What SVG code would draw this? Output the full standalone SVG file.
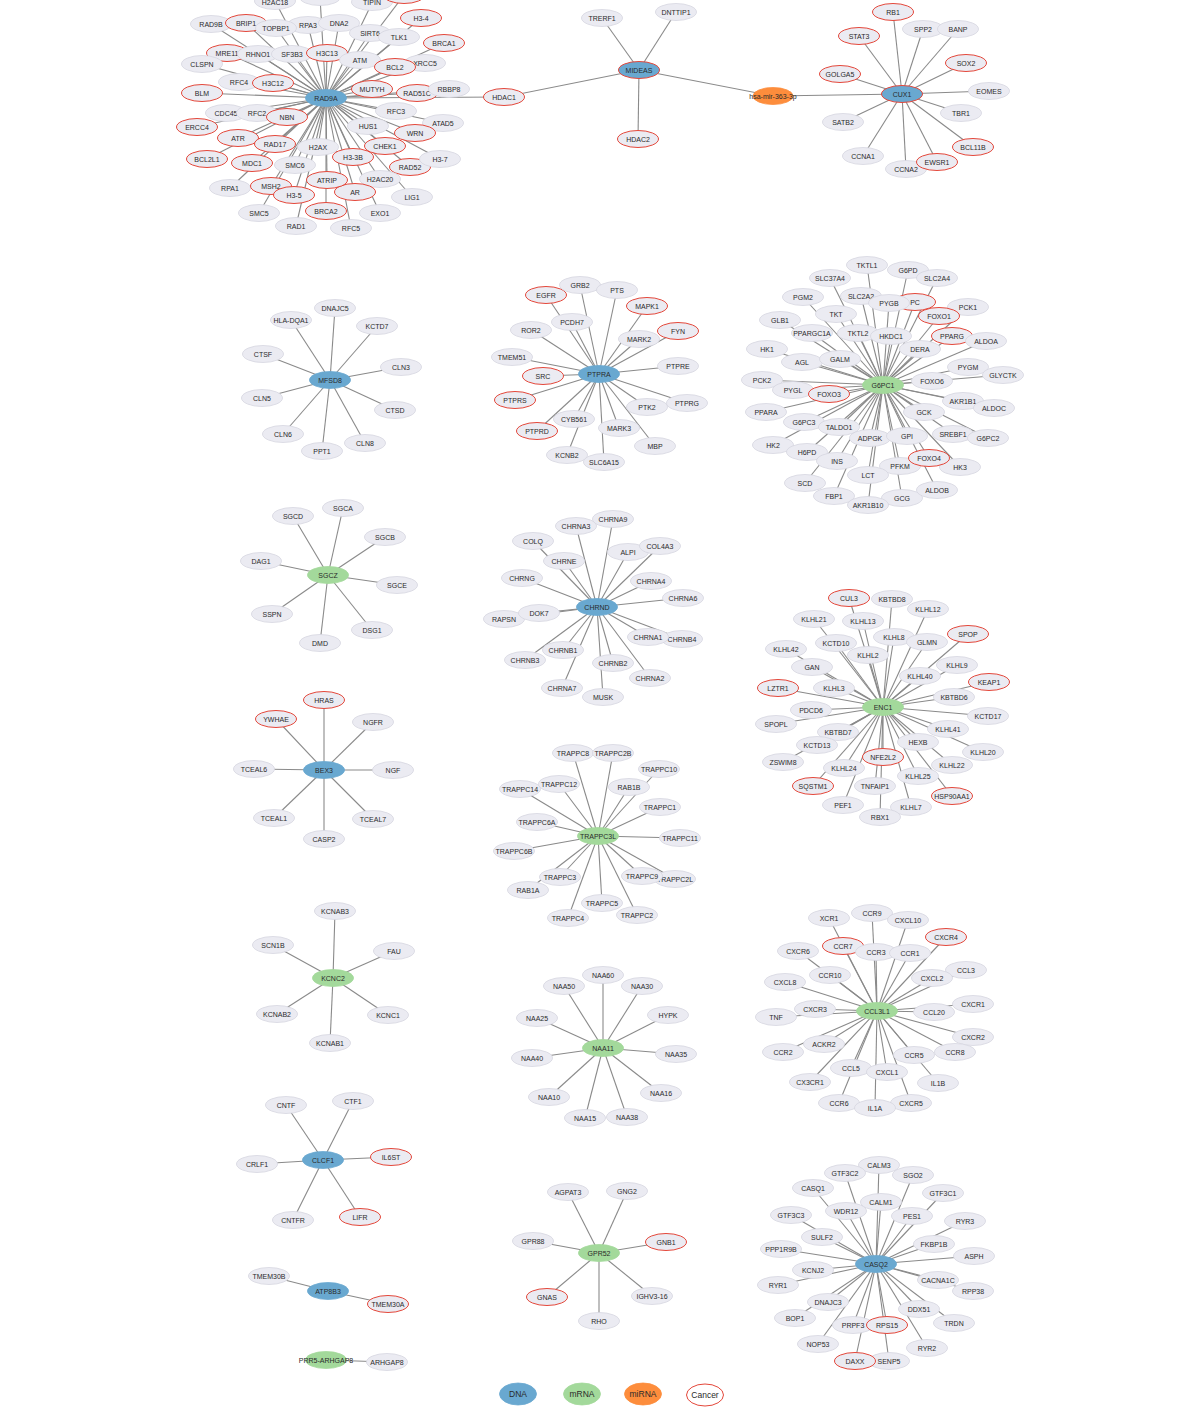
<svg xmlns="http://www.w3.org/2000/svg" width="1196" height="1421" viewBox="0 0 1196 1421">
<style>
.e line{stroke:#8a8a8a;stroke-width:1.1}
.n ellipse{fill:#ebebf2;stroke:#d6d6e0;stroke-width:0.8}
.n.d ellipse{fill:#69a8d0;stroke:#69a8d0}
.n.m ellipse{fill:#a3d99b;stroke:#a3d99b}
.n.r ellipse{fill:#fd8d3c;stroke:#fd8d3c}
.n.c ellipse{stroke:#e4473a;stroke-width:1}
.n.w ellipse{fill:#ffffff}
text{font-family:"Liberation Sans",Arial,sans-serif;font-size:7px;fill:#2a2a2a;text-anchor:middle}
.lg text{font-size:8.5px}
</style>
<rect width="1196" height="1421" fill="#fff"/>
<g id="connectors" class="e">
<line x1="326" y1="98" x2="275" y2="1"/><line x1="326" y1="98" x2="320" y2="-3"/><line x1="326" y1="98" x2="372" y2="3"/><line x1="326" y1="98" x2="404" y2="-5"/>
<line x1="326" y1="98" x2="211" y2="24"/><line x1="326" y1="98" x2="246" y2="23"/><line x1="326" y1="98" x2="276" y2="28"/><line x1="326" y1="98" x2="308" y2="25"/>
<line x1="326" y1="98" x2="339" y2="23"/><line x1="326" y1="98" x2="421" y2="18"/><line x1="326" y1="98" x2="370" y2="33"/><line x1="326" y1="98" x2="399" y2="37"/>
<line x1="326" y1="98" x2="444" y2="43"/><line x1="326" y1="98" x2="227" y2="53"/><line x1="326" y1="98" x2="258" y2="54"/><line x1="326" y1="98" x2="292" y2="54"/>
<line x1="326" y1="98" x2="327" y2="53"/><line x1="326" y1="98" x2="360" y2="60"/><line x1="326" y1="98" x2="425" y2="63"/><line x1="326" y1="98" x2="395" y2="67"/>
<line x1="326" y1="98" x2="202" y2="64"/><line x1="326" y1="98" x2="239" y2="82"/><line x1="326" y1="98" x2="273" y2="83"/><line x1="326" y1="98" x2="202" y2="93"/>
<line x1="326" y1="98" x2="372" y2="89"/><line x1="326" y1="98" x2="417" y2="93"/><line x1="326" y1="98" x2="449" y2="89"/><line x1="326" y1="98" x2="226" y2="113"/>
<line x1="326" y1="98" x2="257" y2="113"/><line x1="326" y1="98" x2="287" y2="117"/><line x1="326" y1="98" x2="396" y2="111"/><line x1="326" y1="98" x2="197" y2="127"/>
<line x1="326" y1="98" x2="443" y2="123"/><line x1="326" y1="98" x2="368" y2="126"/><line x1="326" y1="98" x2="415" y2="133"/><line x1="326" y1="98" x2="238" y2="138"/>
<line x1="326" y1="98" x2="275" y2="144"/><line x1="326" y1="98" x2="318" y2="147"/><line x1="326" y1="98" x2="385" y2="146"/><line x1="326" y1="98" x2="353" y2="157"/>
<line x1="326" y1="98" x2="410" y2="167"/><line x1="326" y1="98" x2="440" y2="159"/><line x1="326" y1="98" x2="207" y2="159"/><line x1="326" y1="98" x2="252" y2="163"/>
<line x1="326" y1="98" x2="295" y2="165"/><line x1="326" y1="98" x2="380" y2="179"/><line x1="326" y1="98" x2="327" y2="180"/><line x1="326" y1="98" x2="355" y2="192"/>
<line x1="326" y1="98" x2="230" y2="188"/><line x1="326" y1="98" x2="271" y2="186"/><line x1="326" y1="98" x2="294" y2="195"/><line x1="326" y1="98" x2="412" y2="197"/>
<line x1="326" y1="98" x2="259" y2="213"/><line x1="326" y1="98" x2="326" y2="211"/><line x1="326" y1="98" x2="380" y2="213"/><line x1="326" y1="98" x2="296" y2="226"/>
<line x1="326" y1="98" x2="351" y2="228"/><line x1="326" y1="98" x2="504" y2="97"/>
<line x1="504" y1="97" x2="639" y2="70"/><line x1="639" y1="70" x2="602" y2="18"/><line x1="639" y1="70" x2="676" y2="12"/><line x1="639" y1="70" x2="638" y2="139"/><line x1="639" y1="70" x2="773" y2="96"/><line x1="773" y1="96" x2="902" y2="94"/>
<line x1="902" y1="94" x2="893" y2="12"/><line x1="902" y1="94" x2="859" y2="36"/><line x1="902" y1="94" x2="923" y2="29"/><line x1="902" y1="94" x2="958" y2="29"/>
<line x1="902" y1="94" x2="966" y2="63"/><line x1="902" y1="94" x2="840" y2="74"/><line x1="902" y1="94" x2="989" y2="91"/><line x1="902" y1="94" x2="961" y2="113"/>
<line x1="902" y1="94" x2="843" y2="122"/><line x1="902" y1="94" x2="973" y2="147"/><line x1="902" y1="94" x2="863" y2="156"/><line x1="902" y1="94" x2="906" y2="169"/><line x1="902" y1="94" x2="937" y2="162"/>
<line x1="330" y1="380" x2="291" y2="320"/><line x1="330" y1="380" x2="335" y2="308"/><line x1="330" y1="380" x2="377" y2="326"/><line x1="330" y1="380" x2="263" y2="354"/>
<line x1="330" y1="380" x2="401" y2="367"/><line x1="330" y1="380" x2="262" y2="398"/><line x1="330" y1="380" x2="395" y2="410"/><line x1="330" y1="380" x2="283" y2="434"/>
<line x1="330" y1="380" x2="322" y2="451"/><line x1="330" y1="380" x2="365" y2="443"/>
<line x1="599" y1="374" x2="546" y2="295"/><line x1="599" y1="374" x2="580" y2="285"/><line x1="599" y1="374" x2="617" y2="290"/><line x1="599" y1="374" x2="647" y2="306"/>
<line x1="599" y1="374" x2="572" y2="322"/><line x1="599" y1="374" x2="531" y2="330"/><line x1="599" y1="374" x2="639" y2="339"/><line x1="599" y1="374" x2="678" y2="331"/>
<line x1="599" y1="374" x2="512" y2="357"/><line x1="599" y1="374" x2="678" y2="366"/><line x1="599" y1="374" x2="543" y2="376"/><line x1="599" y1="374" x2="515" y2="400"/>
<line x1="599" y1="374" x2="647" y2="407"/><line x1="599" y1="374" x2="687" y2="403"/><line x1="599" y1="374" x2="574" y2="419"/><line x1="599" y1="374" x2="619" y2="428"/>
<line x1="599" y1="374" x2="537" y2="431"/><line x1="599" y1="374" x2="655" y2="446"/><line x1="599" y1="374" x2="567" y2="455"/><line x1="599" y1="374" x2="604" y2="462"/>
<line x1="883" y1="385" x2="867" y2="265"/><line x1="883" y1="385" x2="908" y2="270"/><line x1="883" y1="385" x2="830" y2="278"/><line x1="883" y1="385" x2="937" y2="278"/>
<line x1="883" y1="385" x2="803" y2="297"/><line x1="883" y1="385" x2="861" y2="296"/><line x1="883" y1="385" x2="889" y2="303"/><line x1="883" y1="385" x2="915" y2="302"/>
<line x1="883" y1="385" x2="968" y2="307"/><line x1="883" y1="385" x2="939" y2="316"/><line x1="883" y1="385" x2="836" y2="314"/><line x1="883" y1="385" x2="780" y2="320"/>
<line x1="883" y1="385" x2="812" y2="333"/><line x1="883" y1="385" x2="858" y2="333"/><line x1="883" y1="385" x2="891" y2="336"/><line x1="883" y1="385" x2="952" y2="336"/>
<line x1="883" y1="385" x2="986" y2="341"/><line x1="883" y1="385" x2="920" y2="349"/><line x1="883" y1="385" x2="767" y2="349"/><line x1="883" y1="385" x2="802" y2="362"/>
<line x1="883" y1="385" x2="840" y2="359"/><line x1="883" y1="385" x2="968" y2="367"/><line x1="883" y1="385" x2="1003" y2="375"/><line x1="883" y1="385" x2="932" y2="381"/>
<line x1="883" y1="385" x2="762" y2="380"/><line x1="883" y1="385" x2="793" y2="390"/><line x1="883" y1="385" x2="829" y2="394"/><line x1="883" y1="385" x2="963" y2="401"/>
<line x1="883" y1="385" x2="994" y2="408"/><line x1="883" y1="385" x2="766" y2="412"/><line x1="883" y1="385" x2="924" y2="412"/><line x1="883" y1="385" x2="804" y2="422"/>
<line x1="883" y1="385" x2="839" y2="427"/><line x1="883" y1="385" x2="953" y2="434"/><line x1="883" y1="385" x2="988" y2="438"/><line x1="883" y1="385" x2="870" y2="438"/>
<line x1="883" y1="385" x2="907" y2="436"/><line x1="883" y1="385" x2="773" y2="445"/><line x1="883" y1="385" x2="807" y2="452"/><line x1="883" y1="385" x2="929" y2="458"/>
<line x1="883" y1="385" x2="960" y2="467"/><line x1="883" y1="385" x2="837" y2="461"/><line x1="883" y1="385" x2="900" y2="466"/><line x1="883" y1="385" x2="868" y2="475"/>
<line x1="883" y1="385" x2="805" y2="483"/><line x1="883" y1="385" x2="937" y2="490"/><line x1="883" y1="385" x2="834" y2="496"/><line x1="883" y1="385" x2="902" y2="498"/>
<line x1="883" y1="385" x2="868" y2="505"/>
<line x1="328" y1="575" x2="293" y2="516"/><line x1="328" y1="575" x2="343" y2="508"/><line x1="328" y1="575" x2="385" y2="537"/><line x1="328" y1="575" x2="261" y2="561"/>
<line x1="328" y1="575" x2="397" y2="585"/><line x1="328" y1="575" x2="272" y2="614"/><line x1="328" y1="575" x2="372" y2="630"/><line x1="328" y1="575" x2="320" y2="643"/>
<line x1="597" y1="607" x2="576" y2="526"/><line x1="597" y1="607" x2="613" y2="519"/><line x1="597" y1="607" x2="533" y2="541"/><line x1="597" y1="607" x2="628" y2="552"/>
<line x1="597" y1="607" x2="660" y2="546"/><line x1="597" y1="607" x2="564" y2="561"/><line x1="597" y1="607" x2="522" y2="578"/><line x1="597" y1="607" x2="651" y2="581"/>
<line x1="597" y1="607" x2="683" y2="598"/><line x1="597" y1="607" x2="504" y2="619"/><line x1="597" y1="607" x2="539" y2="613"/><line x1="597" y1="607" x2="648" y2="637"/>
<line x1="597" y1="607" x2="682" y2="639"/><line x1="597" y1="607" x2="563" y2="650"/><line x1="597" y1="607" x2="525" y2="660"/><line x1="597" y1="607" x2="613" y2="663"/>
<line x1="597" y1="607" x2="650" y2="678"/><line x1="597" y1="607" x2="562" y2="688"/><line x1="597" y1="607" x2="603" y2="697"/>
<line x1="883" y1="707" x2="849" y2="598"/><line x1="883" y1="707" x2="892" y2="599"/><line x1="883" y1="707" x2="928" y2="609"/><line x1="883" y1="707" x2="814" y2="619"/>
<line x1="883" y1="707" x2="863" y2="621"/><line x1="883" y1="707" x2="968" y2="634"/><line x1="883" y1="707" x2="894" y2="637"/><line x1="883" y1="707" x2="927" y2="642"/>
<line x1="883" y1="707" x2="836" y2="643"/><line x1="883" y1="707" x2="786" y2="649"/><line x1="883" y1="707" x2="868" y2="655"/><line x1="883" y1="707" x2="812" y2="667"/>
<line x1="883" y1="707" x2="957" y2="665"/><line x1="883" y1="707" x2="920" y2="676"/><line x1="883" y1="707" x2="778" y2="688"/><line x1="883" y1="707" x2="989" y2="682"/>
<line x1="883" y1="707" x2="834" y2="688"/><line x1="883" y1="707" x2="954" y2="697"/><line x1="883" y1="707" x2="811" y2="710"/><line x1="883" y1="707" x2="988" y2="716"/>
<line x1="883" y1="707" x2="776" y2="724"/><line x1="883" y1="707" x2="948" y2="729"/><line x1="883" y1="707" x2="838" y2="732"/><line x1="883" y1="707" x2="918" y2="742"/>
<line x1="883" y1="707" x2="817" y2="745"/><line x1="883" y1="707" x2="983" y2="752"/><line x1="883" y1="707" x2="783" y2="762"/><line x1="883" y1="707" x2="883" y2="757"/>
<line x1="883" y1="707" x2="952" y2="765"/><line x1="883" y1="707" x2="844" y2="768"/><line x1="883" y1="707" x2="918" y2="776"/><line x1="883" y1="707" x2="813" y2="786"/>
<line x1="883" y1="707" x2="875" y2="786"/><line x1="883" y1="707" x2="952" y2="796"/><line x1="883" y1="707" x2="843" y2="805"/><line x1="883" y1="707" x2="911" y2="807"/>
<line x1="883" y1="707" x2="880" y2="817"/>
<line x1="324" y1="770" x2="324" y2="700"/><line x1="324" y1="770" x2="276" y2="719"/><line x1="324" y1="770" x2="373" y2="722"/><line x1="324" y1="770" x2="254" y2="769"/>
<line x1="324" y1="770" x2="393" y2="770"/><line x1="324" y1="770" x2="274" y2="818"/><line x1="324" y1="770" x2="373" y2="819"/><line x1="324" y1="770" x2="324" y2="839"/>
<line x1="598" y1="836" x2="573" y2="753"/><line x1="598" y1="836" x2="613" y2="753"/><line x1="598" y1="836" x2="659" y2="769"/><line x1="598" y1="836" x2="520" y2="789"/>
<line x1="598" y1="836" x2="559" y2="784"/><line x1="598" y1="836" x2="629" y2="787"/><line x1="598" y1="836" x2="660" y2="807"/><line x1="598" y1="836" x2="537" y2="822"/>
<line x1="598" y1="836" x2="680" y2="838"/><line x1="598" y1="836" x2="514" y2="851"/><line x1="598" y1="836" x2="560" y2="877"/><line x1="598" y1="836" x2="642" y2="876"/>
<line x1="598" y1="836" x2="675" y2="879"/><line x1="598" y1="836" x2="528" y2="890"/><line x1="598" y1="836" x2="602" y2="903"/><line x1="598" y1="836" x2="568" y2="918"/>
<line x1="598" y1="836" x2="637" y2="915"/>
<line x1="333" y1="978" x2="335" y2="911"/><line x1="333" y1="978" x2="273" y2="945"/><line x1="333" y1="978" x2="394" y2="951"/><line x1="333" y1="978" x2="277" y2="1014"/>
<line x1="333" y1="978" x2="388" y2="1015"/><line x1="333" y1="978" x2="330" y2="1043"/>
<line x1="603" y1="1048" x2="603" y2="975"/><line x1="603" y1="1048" x2="564" y2="986"/><line x1="603" y1="1048" x2="642" y2="986"/><line x1="603" y1="1048" x2="537" y2="1018"/>
<line x1="603" y1="1048" x2="668" y2="1015"/><line x1="603" y1="1048" x2="532" y2="1058"/><line x1="603" y1="1048" x2="676" y2="1054"/><line x1="603" y1="1048" x2="549" y2="1097"/>
<line x1="603" y1="1048" x2="661" y2="1093"/><line x1="603" y1="1048" x2="585" y2="1118"/><line x1="603" y1="1048" x2="627" y2="1117"/>
<line x1="877" y1="1011" x2="829" y2="918"/><line x1="877" y1="1011" x2="872" y2="913"/><line x1="877" y1="1011" x2="908" y2="920"/><line x1="877" y1="1011" x2="843" y2="946"/>
<line x1="877" y1="1011" x2="946" y2="937"/><line x1="877" y1="1011" x2="876" y2="952"/><line x1="877" y1="1011" x2="910" y2="953"/><line x1="877" y1="1011" x2="798" y2="951"/>
<line x1="877" y1="1011" x2="830" y2="975"/><line x1="877" y1="1011" x2="932" y2="978"/><line x1="877" y1="1011" x2="966" y2="970"/><line x1="877" y1="1011" x2="785" y2="982"/>
<line x1="877" y1="1011" x2="973" y2="1004"/><line x1="877" y1="1011" x2="815" y2="1009"/><line x1="877" y1="1011" x2="934" y2="1012"/><line x1="877" y1="1011" x2="776" y2="1017"/>
<line x1="877" y1="1011" x2="973" y2="1037"/><line x1="877" y1="1011" x2="824" y2="1044"/><line x1="877" y1="1011" x2="783" y2="1052"/><line x1="877" y1="1011" x2="955" y2="1052"/>
<line x1="877" y1="1011" x2="914" y2="1055"/><line x1="877" y1="1011" x2="851" y2="1068"/><line x1="877" y1="1011" x2="887" y2="1072"/><line x1="877" y1="1011" x2="810" y2="1082"/>
<line x1="877" y1="1011" x2="938" y2="1083"/><line x1="877" y1="1011" x2="839" y2="1103"/><line x1="877" y1="1011" x2="875" y2="1108"/><line x1="877" y1="1011" x2="911" y2="1103"/>
<line x1="323" y1="1160" x2="286" y2="1105"/><line x1="323" y1="1160" x2="353" y2="1101"/><line x1="323" y1="1160" x2="257" y2="1164"/><line x1="323" y1="1160" x2="391" y2="1157"/>
<line x1="323" y1="1160" x2="293" y2="1220"/><line x1="323" y1="1160" x2="360" y2="1217"/>
<line x1="328" y1="1291" x2="269" y2="1276"/><line x1="328" y1="1291" x2="388" y2="1304"/><line x1="326" y1="1360" x2="387" y2="1362"/>
<line x1="599" y1="1253" x2="568" y2="1192"/><line x1="599" y1="1253" x2="627" y2="1191"/><line x1="599" y1="1253" x2="533" y2="1241"/><line x1="599" y1="1253" x2="666" y2="1242"/>
<line x1="599" y1="1253" x2="547" y2="1297"/><line x1="599" y1="1253" x2="652" y2="1296"/><line x1="599" y1="1253" x2="599" y2="1321"/>
<line x1="876" y1="1264" x2="879" y2="1165"/><line x1="876" y1="1264" x2="845" y2="1173"/><line x1="876" y1="1264" x2="913" y2="1175"/><line x1="876" y1="1264" x2="813" y2="1188"/>
<line x1="876" y1="1264" x2="943" y2="1193"/><line x1="876" y1="1264" x2="881" y2="1202"/><line x1="876" y1="1264" x2="846" y2="1211"/><line x1="876" y1="1264" x2="912" y2="1216"/>
<line x1="876" y1="1264" x2="791" y2="1215"/><line x1="876" y1="1264" x2="965" y2="1221"/><line x1="876" y1="1264" x2="822" y2="1237"/><line x1="876" y1="1264" x2="934" y2="1244"/>
<line x1="876" y1="1264" x2="781" y2="1249"/><line x1="876" y1="1264" x2="974" y2="1256"/><line x1="876" y1="1264" x2="813" y2="1270"/><line x1="876" y1="1264" x2="938" y2="1280"/>
<line x1="876" y1="1264" x2="778" y2="1285"/><line x1="876" y1="1264" x2="973" y2="1291"/><line x1="876" y1="1264" x2="828" y2="1302"/><line x1="876" y1="1264" x2="919" y2="1309"/>
<line x1="876" y1="1264" x2="795" y2="1318"/><line x1="876" y1="1264" x2="954" y2="1323"/><line x1="876" y1="1264" x2="853" y2="1325"/><line x1="876" y1="1264" x2="887" y2="1325"/>
<line x1="876" y1="1264" x2="818" y2="1344"/><line x1="876" y1="1264" x2="927" y2="1348"/><line x1="876" y1="1264" x2="855" y2="1361"/><line x1="876" y1="1264" x2="889" y2="1361"/>
</g>
<g id="nodes">
<g id="n-H2AC18" class="n"><ellipse cx="275" cy="1" rx="20.5" ry="8.5"/><text x="275" y="4.5">H2AC18</text></g>
<g id="n-top2" class="n"><ellipse cx="320" cy="-3" rx="20.5" ry="8.5"/></g>
<g id="n-TIPIN" class="n"><ellipse cx="372" cy="2" rx="20.5" ry="8.5"/><text x="372" y="5">TIPIN</text></g>
<g id="n-top4" class="n c"><ellipse cx="404" cy="-5" rx="20.5" ry="8.5"/></g>
<g id="n-RAD9B" class="n"><ellipse cx="211" cy="24" rx="20.5" ry="8.5"/><text x="211" y="26.5">RAD9B</text></g>
<g id="n-BRIP1" class="n c"><ellipse cx="246" cy="23" rx="20.5" ry="8.5"/><text x="246" y="25.5">BRIP1</text></g>
<g id="n-RPA3" class="n"><ellipse cx="308" cy="25" rx="20.5" ry="8.5"/><text x="308" y="27.5">RPA3</text></g>
<g id="n-TOPBP1" class="n"><ellipse cx="276" cy="28" rx="20.5" ry="8.5"/><text x="276" y="30.5">TOPBP1</text></g>
<g id="n-DNA2" class="n"><ellipse cx="339" cy="23" rx="20.5" ry="8.5"/><text x="339" y="25.5">DNA2</text></g>
<g id="n-H3-4" class="n c"><ellipse cx="421" cy="18" rx="20.5" ry="8.5"/><text x="421" y="20.5">H3-4</text></g>
<g id="n-SIRT6" class="n"><ellipse cx="370" cy="33" rx="20.5" ry="8.5"/><text x="370" y="35.5">SIRT6</text></g>
<g id="n-TLK1" class="n"><ellipse cx="399" cy="37" rx="20.5" ry="8.5"/><text x="399" y="39.5">TLK1</text></g>
<g id="n-BRCA1" class="n c"><ellipse cx="444" cy="43" rx="20.5" ry="8.5"/><text x="444" y="45.5">BRCA1</text></g>
<g id="n-MRE11" class="n c"><ellipse cx="227" cy="53" rx="20.5" ry="8.5"/><text x="227" y="55.5">MRE11</text></g>
<g id="n-RHNO1" class="n"><ellipse cx="258" cy="54" rx="20.5" ry="8.5"/><text x="258" y="56.5">RHNO1</text></g>
<g id="n-SF3B3" class="n"><ellipse cx="292" cy="54" rx="20.5" ry="8.5"/><text x="292" y="56.5">SF3B3</text></g>
<g id="n-H3C13" class="n c"><ellipse cx="327" cy="53" rx="20.5" ry="8.5"/><text x="327" y="55.5">H3C13</text></g>
<g id="n-ATM" class="n"><ellipse cx="360" cy="60" rx="20.5" ry="8.5"/><text x="360" y="62.5">ATM</text></g>
<g id="n-XRCC5" class="n"><ellipse cx="425" cy="63" rx="20.5" ry="8.5"/><text x="425" y="65.5">XRCC5</text></g>
<g id="n-BCL2" class="n c"><ellipse cx="395" cy="67" rx="20.5" ry="8.5"/><text x="395" y="69.5">BCL2</text></g>
<g id="n-CLSPN" class="n"><ellipse cx="202" cy="64" rx="20.5" ry="8.5"/><text x="202" y="66.5">CLSPN</text></g>
<g id="n-RFC4" class="n"><ellipse cx="239" cy="82" rx="20.5" ry="8.5"/><text x="239" y="84.5">RFC4</text></g>
<g id="n-H3C12" class="n c"><ellipse cx="273" cy="83" rx="20.5" ry="8.5"/><text x="273" y="85.5">H3C12</text></g>
<g id="n-BLM" class="n c"><ellipse cx="202" cy="93" rx="20.5" ry="8.5"/><text x="202" y="95.5">BLM</text></g>
<g id="n-MUTYH" class="n c"><ellipse cx="372" cy="89" rx="20.5" ry="8.5"/><text x="372" y="91.5">MUTYH</text></g>
<g id="n-RAD51C" class="n c"><ellipse cx="417" cy="93" rx="20.5" ry="8.5"/><text x="417" y="95.5">RAD51C</text></g>
<g id="n-RBBP8" class="n"><ellipse cx="449" cy="89" rx="20.5" ry="8.5"/><text x="449" y="91.5">RBBP8</text></g>
<g id="n-CDC45" class="n"><ellipse cx="226" cy="113" rx="20.5" ry="8.5"/><text x="226" y="115.5">CDC45</text></g>
<g id="n-RFC2" class="n"><ellipse cx="257" cy="113" rx="20.5" ry="8.5"/><text x="257" y="115.5">RFC2</text></g>
<g id="n-NBN" class="n c"><ellipse cx="287" cy="117" rx="20.5" ry="8.5"/><text x="287" y="119.5">NBN</text></g>
<g id="n-RFC3" class="n"><ellipse cx="396" cy="111" rx="20.5" ry="8.5"/><text x="396" y="113.5">RFC3</text></g>
<g id="n-ERCC4" class="n c"><ellipse cx="197" cy="127" rx="20.5" ry="8.5"/><text x="197" y="129.5">ERCC4</text></g>
<g id="n-ATAD5" class="n"><ellipse cx="443" cy="123" rx="20.5" ry="8.5"/><text x="443" y="125.5">ATAD5</text></g>
<g id="n-HUS1" class="n"><ellipse cx="368" cy="126" rx="20.5" ry="8.5"/><text x="368" y="128.5">HUS1</text></g>
<g id="n-WRN" class="n c"><ellipse cx="415" cy="133" rx="20.5" ry="8.5"/><text x="415" y="135.5">WRN</text></g>
<g id="n-ATR" class="n c"><ellipse cx="238" cy="138" rx="20.5" ry="8.5"/><text x="238" y="140.5">ATR</text></g>
<g id="n-RAD17" class="n c"><ellipse cx="275" cy="144" rx="20.5" ry="8.5"/><text x="275" y="146.5">RAD17</text></g>
<g id="n-H2AX" class="n"><ellipse cx="318" cy="147" rx="20.5" ry="8.5"/><text x="318" y="149.5">H2AX</text></g>
<g id="n-CHEK1" class="n c"><ellipse cx="385" cy="146" rx="20.5" ry="8.5"/><text x="385" y="148.5">CHEK1</text></g>
<g id="n-H3-3B" class="n c"><ellipse cx="353" cy="157" rx="20.5" ry="8.5"/><text x="353" y="159.5">H3-3B</text></g>
<g id="n-RAD52" class="n c"><ellipse cx="410" cy="167" rx="20.5" ry="8.5"/><text x="410" y="169.5">RAD52</text></g>
<g id="n-H3-7" class="n"><ellipse cx="440" cy="159" rx="20.5" ry="8.5"/><text x="440" y="161.5">H3-7</text></g>
<g id="n-BCL2L1" class="n c"><ellipse cx="207" cy="159" rx="20.5" ry="8.5"/><text x="207" y="161.5">BCL2L1</text></g>
<g id="n-MDC1" class="n c"><ellipse cx="252" cy="163" rx="20.5" ry="8.5"/><text x="252" y="165.5">MDC1</text></g>
<g id="n-SMC6" class="n"><ellipse cx="295" cy="165" rx="20.5" ry="8.5"/><text x="295" y="167.5">SMC6</text></g>
<g id="n-H2AC20" class="n"><ellipse cx="380" cy="179" rx="20.5" ry="8.5"/><text x="380" y="181.5">H2AC20</text></g>
<g id="n-AR" class="n c"><ellipse cx="355" cy="192" rx="20.5" ry="8.5"/><text x="355" y="194.5">AR</text></g>
<g id="n-ATRIP" class="n c"><ellipse cx="327" cy="180" rx="20.5" ry="8.5"/><text x="327" y="182.5">ATRIP</text></g>
<g id="n-RPA1" class="n"><ellipse cx="230" cy="188" rx="20.5" ry="8.5"/><text x="230" y="190.5">RPA1</text></g>
<g id="n-MSH2" class="n c"><ellipse cx="271" cy="186" rx="20.5" ry="8.5"/><text x="271" y="188.5">MSH2</text></g>
<g id="n-H3-5" class="n c"><ellipse cx="294" cy="195" rx="20.5" ry="8.5"/><text x="294" y="197.5">H3-5</text></g>
<g id="n-LIG1" class="n"><ellipse cx="412" cy="197" rx="20.5" ry="8.5"/><text x="412" y="199.5">LIG1</text></g>
<g id="n-SMC5" class="n"><ellipse cx="259" cy="213" rx="20.5" ry="8.5"/><text x="259" y="215.5">SMC5</text></g>
<g id="n-BRCA2" class="n c"><ellipse cx="326" cy="211" rx="20.5" ry="8.5"/><text x="326" y="213.5">BRCA2</text></g>
<g id="n-EXO1" class="n"><ellipse cx="380" cy="213" rx="20.5" ry="8.5"/><text x="380" y="215.5">EXO1</text></g>
<g id="n-RAD1" class="n"><ellipse cx="296" cy="226" rx="20.5" ry="8.5"/><text x="296" y="228.5">RAD1</text></g>
<g id="n-RFC5" class="n"><ellipse cx="351" cy="228" rx="20.5" ry="8.5"/><text x="351" y="230.5">RFC5</text></g>
<g id="n-RAD9A" class="n d"><ellipse cx="326" cy="98" rx="20.5" ry="8.5"/><text x="326" y="100.5">RAD9A</text></g>
<g id="n-HDAC1" class="n c"><ellipse cx="504" cy="97" rx="20.5" ry="8.5"/><text x="504" y="99.5">HDAC1</text></g>
<g id="n-TRERF1" class="n"><ellipse cx="602" cy="18" rx="20.5" ry="8.5"/><text x="602" y="20.5">TRERF1</text></g>
<g id="n-DNTTIP1" class="n"><ellipse cx="676" cy="12" rx="20.5" ry="8.5"/><text x="676" y="14.5">DNTTIP1</text></g>
<g id="n-HDAC2" class="n c"><ellipse cx="638" cy="139" rx="20.5" ry="8.5"/><text x="638" y="141.5">HDAC2</text></g>
<g id="n-MIDEAS" class="n d c"><ellipse cx="639" cy="70" rx="20.5" ry="8.5"/><text x="639" y="72.5">MIDEAS</text></g>
<g id="n-hsa-mir-363-3p" class="n r"><ellipse cx="773" cy="96" rx="20" ry="8.5"/><text x="773" y="98.5">hsa-mir-363-3p</text></g>
<g id="n-RB1" class="n c"><ellipse cx="893" cy="12" rx="20.5" ry="8.5"/><text x="893" y="14.5">RB1</text></g>
<g id="n-STAT3" class="n c"><ellipse cx="859" cy="36" rx="20.5" ry="8.5"/><text x="859" y="38.5">STAT3</text></g>
<g id="n-SPP2" class="n"><ellipse cx="923" cy="29" rx="20.5" ry="8.5"/><text x="923" y="31.5">SPP2</text></g>
<g id="n-BANP" class="n"><ellipse cx="958" cy="29" rx="20.5" ry="8.5"/><text x="958" y="31.5">BANP</text></g>
<g id="n-SOX2" class="n c"><ellipse cx="966" cy="63" rx="20.5" ry="8.5"/><text x="966" y="65.5">SOX2</text></g>
<g id="n-GOLGA5" class="n c"><ellipse cx="840" cy="74" rx="20.5" ry="8.5"/><text x="840" y="76.5">GOLGA5</text></g>
<g id="n-EOMES" class="n"><ellipse cx="989" cy="91" rx="20.5" ry="8.5"/><text x="989" y="93.5">EOMES</text></g>
<g id="n-TBR1" class="n"><ellipse cx="961" cy="113" rx="20.5" ry="8.5"/><text x="961" y="115.5">TBR1</text></g>
<g id="n-SATB2" class="n"><ellipse cx="843" cy="122" rx="20.5" ry="8.5"/><text x="843" y="124.5">SATB2</text></g>
<g id="n-BCL11B" class="n c"><ellipse cx="973" cy="147" rx="20.5" ry="8.5"/><text x="973" y="149.5">BCL11B</text></g>
<g id="n-CCNA1" class="n"><ellipse cx="863" cy="156" rx="20.5" ry="8.5"/><text x="863" y="158.5">CCNA1</text></g>
<g id="n-CCNA2" class="n"><ellipse cx="906" cy="169" rx="20.5" ry="8.5"/><text x="906" y="171.5">CCNA2</text></g>
<g id="n-EWSR1" class="n c"><ellipse cx="937" cy="162" rx="20.5" ry="8.5"/><text x="937" y="164.5">EWSR1</text></g>
<g id="n-CUX1" class="n d c"><ellipse cx="902" cy="94" rx="20.5" ry="8.5"/><text x="902" y="96.5">CUX1</text></g>
<g id="n-HLA-DQA1" class="n"><ellipse cx="291" cy="320" rx="20.5" ry="8.5"/><text x="291" y="322.5">HLA-DQA1</text></g>
<g id="n-DNAJC5" class="n"><ellipse cx="335" cy="308" rx="20.5" ry="8.5"/><text x="335" y="310.5">DNAJC5</text></g>
<g id="n-KCTD7" class="n"><ellipse cx="377" cy="326" rx="20.5" ry="8.5"/><text x="377" y="328.5">KCTD7</text></g>
<g id="n-CTSF" class="n"><ellipse cx="263" cy="354" rx="20.5" ry="8.5"/><text x="263" y="356.5">CTSF</text></g>
<g id="n-CLN3" class="n"><ellipse cx="401" cy="367" rx="20.5" ry="8.5"/><text x="401" y="369.5">CLN3</text></g>
<g id="n-CLN5" class="n"><ellipse cx="262" cy="398" rx="20.5" ry="8.5"/><text x="262" y="400.5">CLN5</text></g>
<g id="n-CTSD" class="n"><ellipse cx="395" cy="410" rx="20.5" ry="8.5"/><text x="395" y="412.5">CTSD</text></g>
<g id="n-CLN6" class="n"><ellipse cx="283" cy="434" rx="20.5" ry="8.5"/><text x="283" y="436.5">CLN6</text></g>
<g id="n-PPT1" class="n"><ellipse cx="322" cy="451" rx="20.5" ry="8.5"/><text x="322" y="453.5">PPT1</text></g>
<g id="n-CLN8" class="n"><ellipse cx="365" cy="443" rx="20.5" ry="8.5"/><text x="365" y="445.5">CLN8</text></g>
<g id="n-MFSD8" class="n d"><ellipse cx="330" cy="380" rx="20.5" ry="8.5"/><text x="330" y="382.5">MFSD8</text></g>
<g id="n-EGFR" class="n c"><ellipse cx="546" cy="295" rx="20.5" ry="8.5"/><text x="546" y="297.5">EGFR</text></g>
<g id="n-GRB2" class="n"><ellipse cx="580" cy="285" rx="20.5" ry="8.5"/><text x="580" y="287.5">GRB2</text></g>
<g id="n-PTS" class="n"><ellipse cx="617" cy="290" rx="20.5" ry="8.5"/><text x="617" y="292.5">PTS</text></g>
<g id="n-MAPK1" class="n c"><ellipse cx="647" cy="306" rx="20.5" ry="8.5"/><text x="647" y="308.5">MAPK1</text></g>
<g id="n-PCDH7" class="n"><ellipse cx="572" cy="322" rx="20.5" ry="8.5"/><text x="572" y="324.5">PCDH7</text></g>
<g id="n-ROR2" class="n"><ellipse cx="531" cy="330" rx="20.5" ry="8.5"/><text x="531" y="332.5">ROR2</text></g>
<g id="n-MARK2" class="n"><ellipse cx="639" cy="339" rx="20.5" ry="8.5"/><text x="639" y="341.5">MARK2</text></g>
<g id="n-FYN" class="n c"><ellipse cx="678" cy="331" rx="20.5" ry="8.5"/><text x="678" y="333.5">FYN</text></g>
<g id="n-TMEM51" class="n"><ellipse cx="512" cy="357" rx="20.5" ry="8.5"/><text x="512" y="359.5">TMEM51</text></g>
<g id="n-PTPRE" class="n"><ellipse cx="678" cy="366" rx="20.5" ry="8.5"/><text x="678" y="368.5">PTPRE</text></g>
<g id="n-SRC" class="n c"><ellipse cx="543" cy="376" rx="20.5" ry="8.5"/><text x="543" y="378.5">SRC</text></g>
<g id="n-PTPRS" class="n c"><ellipse cx="515" cy="400" rx="20.5" ry="8.5"/><text x="515" y="402.5">PTPRS</text></g>
<g id="n-PTK2" class="n"><ellipse cx="647" cy="407" rx="20.5" ry="8.5"/><text x="647" y="409.5">PTK2</text></g>
<g id="n-PTPRG" class="n"><ellipse cx="687" cy="403" rx="20.5" ry="8.5"/><text x="687" y="405.5">PTPRG</text></g>
<g id="n-CYB561" class="n"><ellipse cx="574" cy="419" rx="20.5" ry="8.5"/><text x="574" y="421.5">CYB561</text></g>
<g id="n-MARK3" class="n"><ellipse cx="619" cy="428" rx="20.5" ry="8.5"/><text x="619" y="430.5">MARK3</text></g>
<g id="n-PTPRD" class="n c"><ellipse cx="537" cy="431" rx="20.5" ry="8.5"/><text x="537" y="433.5">PTPRD</text></g>
<g id="n-MBP" class="n"><ellipse cx="655" cy="446" rx="20.5" ry="8.5"/><text x="655" y="448.5">MBP</text></g>
<g id="n-KCNB2" class="n"><ellipse cx="567" cy="455" rx="20.5" ry="8.5"/><text x="567" y="457.5">KCNB2</text></g>
<g id="n-SLC6A15" class="n"><ellipse cx="604" cy="462" rx="20.5" ry="8.5"/><text x="604" y="464.5">SLC6A15</text></g>
<g id="n-PTPRA" class="n d"><ellipse cx="599" cy="374" rx="20.5" ry="8.5"/><text x="599" y="376.5">PTPRA</text></g>
<g id="n-TKTL1" class="n"><ellipse cx="867" cy="265" rx="20.5" ry="8.5"/><text x="867" y="267.5">TKTL1</text></g>
<g id="n-G6PD" class="n"><ellipse cx="908" cy="270" rx="20.5" ry="8.5"/><text x="908" y="272.5">G6PD</text></g>
<g id="n-SLC37A4" class="n"><ellipse cx="830" cy="278" rx="20.5" ry="8.5"/><text x="830" y="280.5">SLC37A4</text></g>
<g id="n-SLC2A4" class="n"><ellipse cx="937" cy="278" rx="20.5" ry="8.5"/><text x="937" y="280.5">SLC2A4</text></g>
<g id="n-PGM2" class="n"><ellipse cx="803" cy="297" rx="20.5" ry="8.5"/><text x="803" y="299.5">PGM2</text></g>
<g id="n-SLC2A2" class="n"><ellipse cx="861" cy="296" rx="20.5" ry="8.5"/><text x="861" y="298.5">SLC2A2</text></g>
<g id="n-PC" class="n c"><ellipse cx="915" cy="302" rx="20.5" ry="8.5"/><text x="915" y="304.5">PC</text></g>
<g id="n-PYGB" class="n"><ellipse cx="889" cy="303" rx="20.5" ry="8.5"/><text x="889" y="305.5">PYGB</text></g>
<g id="n-PCK1" class="n"><ellipse cx="968" cy="307" rx="20.5" ry="8.5"/><text x="968" y="309.5">PCK1</text></g>
<g id="n-FOXO1" class="n c"><ellipse cx="939" cy="316" rx="20.5" ry="8.5"/><text x="939" y="318.5">FOXO1</text></g>
<g id="n-TKT" class="n"><ellipse cx="836" cy="314" rx="20.5" ry="8.5"/><text x="836" y="316.5">TKT</text></g>
<g id="n-GLB1" class="n"><ellipse cx="780" cy="320" rx="20.5" ry="8.5"/><text x="780" y="322.5">GLB1</text></g>
<g id="n-PPARGC1A" class="n"><ellipse cx="812" cy="333" rx="20.5" ry="8.5"/><text x="812" y="335.5">PPARGC1A</text></g>
<g id="n-TKTL2" class="n"><ellipse cx="858" cy="333" rx="20.5" ry="8.5"/><text x="858" y="335.5">TKTL2</text></g>
<g id="n-HKDC1" class="n"><ellipse cx="891" cy="336" rx="20.5" ry="8.5"/><text x="891" y="338.5">HKDC1</text></g>
<g id="n-PPARG" class="n c"><ellipse cx="952" cy="336" rx="20.5" ry="8.5"/><text x="952" y="338.5">PPARG</text></g>
<g id="n-ALDOA" class="n"><ellipse cx="986" cy="341" rx="20.5" ry="8.5"/><text x="986" y="343.5">ALDOA</text></g>
<g id="n-DERA" class="n"><ellipse cx="920" cy="349" rx="20.5" ry="8.5"/><text x="920" y="351.5">DERA</text></g>
<g id="n-HK1" class="n"><ellipse cx="767" cy="349" rx="20.5" ry="8.5"/><text x="767" y="351.5">HK1</text></g>
<g id="n-AGL" class="n"><ellipse cx="802" cy="362" rx="20.5" ry="8.5"/><text x="802" y="364.5">AGL</text></g>
<g id="n-GALM" class="n"><ellipse cx="840" cy="359" rx="20.5" ry="8.5"/><text x="840" y="361.5">GALM</text></g>
<g id="n-PYGM" class="n"><ellipse cx="968" cy="367" rx="20.5" ry="8.5"/><text x="968" y="369.5">PYGM</text></g>
<g id="n-GLYCTK" class="n"><ellipse cx="1003" cy="375" rx="20.5" ry="8.5"/><text x="1003" y="377.5">GLYCTK</text></g>
<g id="n-FOXO6" class="n"><ellipse cx="932" cy="381" rx="20.5" ry="8.5"/><text x="932" y="383.5">FOXO6</text></g>
<g id="n-PCK2" class="n"><ellipse cx="762" cy="380" rx="20.5" ry="8.5"/><text x="762" y="382.5">PCK2</text></g>
<g id="n-PYGL" class="n"><ellipse cx="793" cy="390" rx="20.5" ry="8.5"/><text x="793" y="392.5">PYGL</text></g>
<g id="n-FOXO3" class="n c"><ellipse cx="829" cy="394" rx="20.5" ry="8.5"/><text x="829" y="396.5">FOXO3</text></g>
<g id="n-AKR1B1" class="n"><ellipse cx="963" cy="401" rx="20.5" ry="8.5"/><text x="963" y="403.5">AKR1B1</text></g>
<g id="n-ALDOC" class="n"><ellipse cx="994" cy="408" rx="20.5" ry="8.5"/><text x="994" y="410.5">ALDOC</text></g>
<g id="n-PPARA" class="n"><ellipse cx="766" cy="412" rx="20.5" ry="8.5"/><text x="766" y="414.5">PPARA</text></g>
<g id="n-GCK" class="n"><ellipse cx="924" cy="412" rx="20.5" ry="8.5"/><text x="924" y="414.5">GCK</text></g>
<g id="n-G6PC3" class="n"><ellipse cx="804" cy="422" rx="20.5" ry="8.5"/><text x="804" y="424.5">G6PC3</text></g>
<g id="n-TALDO1" class="n"><ellipse cx="839" cy="427" rx="20.5" ry="8.5"/><text x="839" y="429.5">TALDO1</text></g>
<g id="n-SREBF1" class="n"><ellipse cx="953" cy="434" rx="20.5" ry="8.5"/><text x="953" y="436.5">SREBF1</text></g>
<g id="n-G6PC2" class="n"><ellipse cx="988" cy="438" rx="20.5" ry="8.5"/><text x="988" y="440.5">G6PC2</text></g>
<g id="n-ADPGK" class="n"><ellipse cx="870" cy="438" rx="20.5" ry="8.5"/><text x="870" y="440.5">ADPGK</text></g>
<g id="n-GPI" class="n"><ellipse cx="907" cy="436" rx="20.5" ry="8.5"/><text x="907" y="438.5">GPI</text></g>
<g id="n-HK2" class="n"><ellipse cx="773" cy="445" rx="20.5" ry="8.5"/><text x="773" y="447.5">HK2</text></g>
<g id="n-H6PD" class="n"><ellipse cx="807" cy="452" rx="20.5" ry="8.5"/><text x="807" y="454.5">H6PD</text></g>
<g id="n-HK3" class="n"><ellipse cx="960" cy="467" rx="20.5" ry="8.5"/><text x="960" y="469.5">HK3</text></g>
<g id="n-INS" class="n"><ellipse cx="837" cy="461" rx="20.5" ry="8.5"/><text x="837" y="463.5">INS</text></g>
<g id="n-PFKM" class="n"><ellipse cx="900" cy="466" rx="20.5" ry="8.5"/><text x="900" y="468.5">PFKM</text></g>
<g id="n-FOXO4" class="n c"><ellipse cx="929" cy="458" rx="20.5" ry="8.5"/><text x="929" y="460.5">FOXO4</text></g>
<g id="n-LCT" class="n"><ellipse cx="868" cy="475" rx="20.5" ry="8.5"/><text x="868" y="477.5">LCT</text></g>
<g id="n-SCD" class="n"><ellipse cx="805" cy="483" rx="20.5" ry="8.5"/><text x="805" y="485.5">SCD</text></g>
<g id="n-GCG" class="n"><ellipse cx="902" cy="498" rx="20.5" ry="8.5"/><text x="902" y="500.5">GCG</text></g>
<g id="n-ALDOB" class="n"><ellipse cx="937" cy="490" rx="20.5" ry="8.5"/><text x="937" y="492.5">ALDOB</text></g>
<g id="n-FBP1" class="n"><ellipse cx="834" cy="496" rx="20.5" ry="8.5"/><text x="834" y="498.5">FBP1</text></g>
<g id="n-AKR1B10" class="n"><ellipse cx="868" cy="505" rx="20.5" ry="8.5"/><text x="868" y="507.5">AKR1B10</text></g>
<g id="n-G6PC1" class="n m"><ellipse cx="883" cy="385" rx="20.5" ry="8.5"/><text x="883" y="387.5">G6PC1</text></g>
<g id="n-SGCD" class="n"><ellipse cx="293" cy="516" rx="20.5" ry="8.5"/><text x="293" y="518.5">SGCD</text></g>
<g id="n-SGCA" class="n"><ellipse cx="343" cy="508" rx="20.5" ry="8.5"/><text x="343" y="510.5">SGCA</text></g>
<g id="n-SGCB" class="n"><ellipse cx="385" cy="537" rx="20.5" ry="8.5"/><text x="385" y="539.5">SGCB</text></g>
<g id="n-DAG1" class="n"><ellipse cx="261" cy="561" rx="20.5" ry="8.5"/><text x="261" y="563.5">DAG1</text></g>
<g id="n-SGCE" class="n"><ellipse cx="397" cy="585" rx="20.5" ry="8.5"/><text x="397" y="587.5">SGCE</text></g>
<g id="n-SSPN" class="n"><ellipse cx="272" cy="614" rx="20.5" ry="8.5"/><text x="272" y="616.5">SSPN</text></g>
<g id="n-DSG1" class="n"><ellipse cx="372" cy="630" rx="20.5" ry="8.5"/><text x="372" y="632.5">DSG1</text></g>
<g id="n-DMD" class="n"><ellipse cx="320" cy="643" rx="20.5" ry="8.5"/><text x="320" y="645.5">DMD</text></g>
<g id="n-SGCZ" class="n m"><ellipse cx="328" cy="575" rx="20.5" ry="8.5"/><text x="328" y="577.5">SGCZ</text></g>
<g id="n-CHRNA3" class="n"><ellipse cx="576" cy="526" rx="20.5" ry="8.5"/><text x="576" y="528.5">CHRNA3</text></g>
<g id="n-CHRNA9" class="n"><ellipse cx="613" cy="519" rx="20.5" ry="8.5"/><text x="613" y="521.5">CHRNA9</text></g>
<g id="n-COLQ" class="n"><ellipse cx="533" cy="541" rx="20.5" ry="8.5"/><text x="533" y="543.5">COLQ</text></g>
<g id="n-ALPI" class="n"><ellipse cx="628" cy="552" rx="20.5" ry="8.5"/><text x="628" y="554.5">ALPI</text></g>
<g id="n-COL4A3" class="n"><ellipse cx="660" cy="546" rx="20.5" ry="8.5"/><text x="660" y="548.5">COL4A3</text></g>
<g id="n-CHRNE" class="n"><ellipse cx="564" cy="561" rx="20.5" ry="8.5"/><text x="564" y="563.5">CHRNE</text></g>
<g id="n-CHRNG" class="n"><ellipse cx="522" cy="578" rx="20.5" ry="8.5"/><text x="522" y="580.5">CHRNG</text></g>
<g id="n-CHRNA4" class="n"><ellipse cx="651" cy="581" rx="20.5" ry="8.5"/><text x="651" y="583.5">CHRNA4</text></g>
<g id="n-CHRNA6" class="n"><ellipse cx="683" cy="598" rx="20.5" ry="8.5"/><text x="683" y="600.5">CHRNA6</text></g>
<g id="n-RAPSN" class="n"><ellipse cx="504" cy="619" rx="20.5" ry="8.5"/><text x="504" y="621.5">RAPSN</text></g>
<g id="n-DOK7" class="n"><ellipse cx="539" cy="613" rx="20.5" ry="8.5"/><text x="539" y="615.5">DOK7</text></g>
<g id="n-CHRNB4" class="n"><ellipse cx="682" cy="639" rx="20.5" ry="8.5"/><text x="682" y="641.5">CHRNB4</text></g>
<g id="n-CHRNA1" class="n"><ellipse cx="648" cy="637" rx="20.5" ry="8.5"/><text x="648" y="639.5">CHRNA1</text></g>
<g id="n-CHRNB3" class="n"><ellipse cx="525" cy="660" rx="20.5" ry="8.5"/><text x="525" y="662.5">CHRNB3</text></g>
<g id="n-CHRNB1" class="n"><ellipse cx="563" cy="650" rx="20.5" ry="8.5"/><text x="563" y="652.5">CHRNB1</text></g>
<g id="n-CHRNB2" class="n"><ellipse cx="613" cy="663" rx="20.5" ry="8.5"/><text x="613" y="665.5">CHRNB2</text></g>
<g id="n-CHRNA2" class="n"><ellipse cx="650" cy="678" rx="20.5" ry="8.5"/><text x="650" y="680.5">CHRNA2</text></g>
<g id="n-CHRNA7" class="n"><ellipse cx="562" cy="688" rx="20.5" ry="8.5"/><text x="562" y="690.5">CHRNA7</text></g>
<g id="n-MUSK" class="n"><ellipse cx="603" cy="697" rx="20.5" ry="8.5"/><text x="603" y="699.5">MUSK</text></g>
<g id="n-CHRND" class="n d"><ellipse cx="597" cy="607" rx="20.5" ry="8.5"/><text x="597" y="609.5">CHRND</text></g>
<g id="n-CUL3" class="n c"><ellipse cx="849" cy="598" rx="20.5" ry="8.5"/><text x="849" y="600.5">CUL3</text></g>
<g id="n-KBTBD8" class="n"><ellipse cx="892" cy="599" rx="20.5" ry="8.5"/><text x="892" y="601.5">KBTBD8</text></g>
<g id="n-KLHL12" class="n"><ellipse cx="928" cy="609" rx="20.5" ry="8.5"/><text x="928" y="611.5">KLHL12</text></g>
<g id="n-KLHL21" class="n"><ellipse cx="814" cy="619" rx="20.5" ry="8.5"/><text x="814" y="621.5">KLHL21</text></g>
<g id="n-KLHL13" class="n"><ellipse cx="863" cy="621" rx="20.5" ry="8.5"/><text x="863" y="623.5">KLHL13</text></g>
<g id="n-SPOP" class="n c"><ellipse cx="968" cy="634" rx="20.5" ry="8.5"/><text x="968" y="636.5">SPOP</text></g>
<g id="n-KLHL8" class="n"><ellipse cx="894" cy="637" rx="20.5" ry="8.5"/><text x="894" y="639.5">KLHL8</text></g>
<g id="n-GLMN" class="n"><ellipse cx="927" cy="642" rx="20.5" ry="8.5"/><text x="927" y="644.5">GLMN</text></g>
<g id="n-KCTD10" class="n"><ellipse cx="836" cy="643" rx="20.5" ry="8.5"/><text x="836" y="645.5">KCTD10</text></g>
<g id="n-KLHL42" class="n"><ellipse cx="786" cy="649" rx="20.5" ry="8.5"/><text x="786" y="651.5">KLHL42</text></g>
<g id="n-KLHL2" class="n"><ellipse cx="868" cy="655" rx="20.5" ry="8.5"/><text x="868" y="657.5">KLHL2</text></g>
<g id="n-GAN" class="n"><ellipse cx="812" cy="667" rx="20.5" ry="8.5"/><text x="812" y="669.5">GAN</text></g>
<g id="n-KLHL9" class="n"><ellipse cx="957" cy="665" rx="20.5" ry="8.5"/><text x="957" y="667.5">KLHL9</text></g>
<g id="n-KLHL40" class="n"><ellipse cx="920" cy="676" rx="20.5" ry="8.5"/><text x="920" y="678.5">KLHL40</text></g>
<g id="n-LZTR1" class="n c"><ellipse cx="778" cy="688" rx="20.5" ry="8.5"/><text x="778" y="690.5">LZTR1</text></g>
<g id="n-KBTBD6" class="n"><ellipse cx="954" cy="697" rx="20.5" ry="8.5"/><text x="954" y="699.5">KBTBD6</text></g>
<g id="n-KEAP1" class="n c"><ellipse cx="989" cy="682" rx="20.5" ry="8.5"/><text x="989" y="684.5">KEAP1</text></g>
<g id="n-KLHL3" class="n"><ellipse cx="834" cy="688" rx="20.5" ry="8.5"/><text x="834" y="690.5">KLHL3</text></g>
<g id="n-PDCD6" class="n"><ellipse cx="811" cy="710" rx="20.5" ry="8.5"/><text x="811" y="712.5">PDCD6</text></g>
<g id="n-KCTD17" class="n"><ellipse cx="988" cy="716" rx="20.5" ry="8.5"/><text x="988" y="718.5">KCTD17</text></g>
<g id="n-SPOPL" class="n"><ellipse cx="776" cy="724" rx="20.5" ry="8.5"/><text x="776" y="726.5">SPOPL</text></g>
<g id="n-KLHL41" class="n"><ellipse cx="948" cy="729" rx="20.5" ry="8.5"/><text x="948" y="731.5">KLHL41</text></g>
<g id="n-KBTBD7" class="n"><ellipse cx="838" cy="732" rx="20.5" ry="8.5"/><text x="838" y="734.5">KBTBD7</text></g>
<g id="n-KCTD13" class="n"><ellipse cx="817" cy="745" rx="20.5" ry="8.5"/><text x="817" y="747.5">KCTD13</text></g>
<g id="n-KLHL20" class="n"><ellipse cx="983" cy="752" rx="20.5" ry="8.5"/><text x="983" y="754.5">KLHL20</text></g>
<g id="n-ZSWIM8" class="n"><ellipse cx="783" cy="762" rx="20.5" ry="8.5"/><text x="783" y="764.5">ZSWIM8</text></g>
<g id="n-KLHL22" class="n"><ellipse cx="952" cy="765" rx="20.5" ry="8.5"/><text x="952" y="767.5">KLHL22</text></g>
<g id="n-HEXB" class="n"><ellipse cx="918" cy="742" rx="20.5" ry="8.5"/><text x="918" y="744.5">HEXB</text></g>
<g id="n-KLHL24" class="n"><ellipse cx="844" cy="768" rx="20.5" ry="8.5"/><text x="844" y="770.5">KLHL24</text></g>
<g id="n-NFE2L2" class="n c"><ellipse cx="883" cy="757" rx="20.5" ry="8.5"/><text x="883" y="759.5">NFE2L2</text></g>
<g id="n-KLHL25" class="n"><ellipse cx="918" cy="776" rx="20.5" ry="8.5"/><text x="918" y="778.5">KLHL25</text></g>
<g id="n-SQSTM1" class="n c"><ellipse cx="813" cy="786" rx="20.5" ry="8.5"/><text x="813" y="788.5">SQSTM1</text></g>
<g id="n-TNFAIP1" class="n"><ellipse cx="875" cy="786" rx="20.5" ry="8.5"/><text x="875" y="788.5">TNFAIP1</text></g>
<g id="n-HSP90AA1" class="n c"><ellipse cx="952" cy="796" rx="20.5" ry="8.5"/><text x="952" y="798.5">HSP90AA1</text></g>
<g id="n-PEF1" class="n"><ellipse cx="843" cy="805" rx="20.5" ry="8.5"/><text x="843" y="807.5">PEF1</text></g>
<g id="n-KLHL7" class="n"><ellipse cx="911" cy="807" rx="20.5" ry="8.5"/><text x="911" y="809.5">KLHL7</text></g>
<g id="n-RBX1" class="n"><ellipse cx="880" cy="817" rx="20.5" ry="8.5"/><text x="880" y="819.5">RBX1</text></g>
<g id="n-ENC1" class="n m"><ellipse cx="883" cy="707" rx="20.5" ry="8.5"/><text x="883" y="709.5">ENC1</text></g>
<g id="n-HRAS" class="n c"><ellipse cx="324" cy="700" rx="20.5" ry="8.5"/><text x="324" y="702.5">HRAS</text></g>
<g id="n-YWHAE" class="n c"><ellipse cx="276" cy="719" rx="20.5" ry="8.5"/><text x="276" y="721.5">YWHAE</text></g>
<g id="n-NGFR" class="n"><ellipse cx="373" cy="722" rx="20.5" ry="8.5"/><text x="373" y="724.5">NGFR</text></g>
<g id="n-TCEAL6" class="n"><ellipse cx="254" cy="769" rx="20.5" ry="8.5"/><text x="254" y="771.5">TCEAL6</text></g>
<g id="n-NGF" class="n"><ellipse cx="393" cy="770" rx="20.5" ry="8.5"/><text x="393" y="772.5">NGF</text></g>
<g id="n-TCEAL1" class="n"><ellipse cx="274" cy="818" rx="20.5" ry="8.5"/><text x="274" y="820.5">TCEAL1</text></g>
<g id="n-TCEAL7" class="n"><ellipse cx="373" cy="819" rx="20.5" ry="8.5"/><text x="373" y="821.5">TCEAL7</text></g>
<g id="n-CASP2" class="n"><ellipse cx="324" cy="839" rx="20.5" ry="8.5"/><text x="324" y="841.5">CASP2</text></g>
<g id="n-BEX3" class="n d"><ellipse cx="324" cy="770" rx="20.5" ry="8.5"/><text x="324" y="772.5">BEX3</text></g>
<g id="n-TRAPPC8" class="n"><ellipse cx="573" cy="753" rx="20.5" ry="8.5"/><text x="573" y="755.5">TRAPPC8</text></g>
<g id="n-TRAPPC2B" class="n"><ellipse cx="613" cy="753" rx="20.5" ry="8.5"/><text x="613" y="755.5">TRAPPC2B</text></g>
<g id="n-TRAPPC10" class="n"><ellipse cx="659" cy="769" rx="20.5" ry="8.5"/><text x="659" y="771.5">TRAPPC10</text></g>
<g id="n-TRAPPC14" class="n"><ellipse cx="520" cy="789" rx="20.5" ry="8.5"/><text x="520" y="791.5">TRAPPC14</text></g>
<g id="n-TRAPPC12" class="n"><ellipse cx="559" cy="784" rx="20.5" ry="8.5"/><text x="559" y="786.5">TRAPPC12</text></g>
<g id="n-RAB1B" class="n"><ellipse cx="629" cy="787" rx="20.5" ry="8.5"/><text x="629" y="789.5">RAB1B</text></g>
<g id="n-TRAPPC1" class="n"><ellipse cx="660" cy="807" rx="20.5" ry="8.5"/><text x="660" y="809.5">TRAPPC1</text></g>
<g id="n-TRAPPC6A" class="n"><ellipse cx="537" cy="822" rx="20.5" ry="8.5"/><text x="537" y="824.5">TRAPPC6A</text></g>
<g id="n-TRAPPC11" class="n"><ellipse cx="680" cy="838" rx="20.5" ry="8.5"/><text x="680" y="840.5">TRAPPC11</text></g>
<g id="n-TRAPPC6B" class="n"><ellipse cx="514" cy="851" rx="20.5" ry="8.5"/><text x="514" y="853.5">TRAPPC6B</text></g>
<g id="n-RAB1A" class="n"><ellipse cx="528" cy="890" rx="20.5" ry="8.5"/><text x="528" y="892.5">RAB1A</text></g>
<g id="n-TRAPPC3" class="n"><ellipse cx="560" cy="877" rx="20.5" ry="8.5"/><text x="560" y="879.5">TRAPPC3</text></g>
<g id="n-TRAPPC2L" class="n"><ellipse cx="675" cy="879" rx="20.5" ry="8.5"/><text x="675" y="881.5">TRAPPC2L</text></g>
<g id="n-TRAPPC9" class="n"><ellipse cx="642" cy="876" rx="20.5" ry="8.5"/><text x="642" y="878.5">TRAPPC9</text></g>
<g id="n-TRAPPC5" class="n"><ellipse cx="602" cy="903" rx="20.5" ry="8.5"/><text x="602" y="905.5">TRAPPC5</text></g>
<g id="n-TRAPPC4" class="n"><ellipse cx="568" cy="918" rx="20.5" ry="8.5"/><text x="568" y="920.5">TRAPPC4</text></g>
<g id="n-TRAPPC2" class="n"><ellipse cx="637" cy="915" rx="20.5" ry="8.5"/><text x="637" y="917.5">TRAPPC2</text></g>
<g id="n-TRAPPC3L" class="n m"><ellipse cx="598" cy="836" rx="20.5" ry="8.5"/><text x="598" y="838.5">TRAPPC3L</text></g>
<g id="n-KCNAB3" class="n"><ellipse cx="335" cy="911" rx="20.5" ry="8.5"/><text x="335" y="913.5">KCNAB3</text></g>
<g id="n-SCN1B" class="n"><ellipse cx="273" cy="945" rx="20.5" ry="8.5"/><text x="273" y="947.5">SCN1B</text></g>
<g id="n-FAU" class="n"><ellipse cx="394" cy="951" rx="20.5" ry="8.5"/><text x="394" y="953.5">FAU</text></g>
<g id="n-KCNAB2" class="n"><ellipse cx="277" cy="1014" rx="20.5" ry="8.5"/><text x="277" y="1016.5">KCNAB2</text></g>
<g id="n-KCNC1" class="n"><ellipse cx="388" cy="1015" rx="20.5" ry="8.5"/><text x="388" y="1017.5">KCNC1</text></g>
<g id="n-KCNAB1" class="n"><ellipse cx="330" cy="1043" rx="20.5" ry="8.5"/><text x="330" y="1045.5">KCNAB1</text></g>
<g id="n-KCNC2" class="n m"><ellipse cx="333" cy="978" rx="20.5" ry="8.5"/><text x="333" y="980.5">KCNC2</text></g>
<g id="n-NAA60" class="n"><ellipse cx="603" cy="975" rx="20.5" ry="8.5"/><text x="603" y="977.5">NAA60</text></g>
<g id="n-NAA50" class="n"><ellipse cx="564" cy="986" rx="20.5" ry="8.5"/><text x="564" y="988.5">NAA50</text></g>
<g id="n-NAA30" class="n"><ellipse cx="642" cy="986" rx="20.5" ry="8.5"/><text x="642" y="988.5">NAA30</text></g>
<g id="n-NAA25" class="n"><ellipse cx="537" cy="1018" rx="20.5" ry="8.5"/><text x="537" y="1020.5">NAA25</text></g>
<g id="n-HYPK" class="n"><ellipse cx="668" cy="1015" rx="20.5" ry="8.5"/><text x="668" y="1017.5">HYPK</text></g>
<g id="n-NAA40" class="n"><ellipse cx="532" cy="1058" rx="20.5" ry="8.5"/><text x="532" y="1060.5">NAA40</text></g>
<g id="n-NAA35" class="n"><ellipse cx="676" cy="1054" rx="20.5" ry="8.5"/><text x="676" y="1056.5">NAA35</text></g>
<g id="n-NAA10" class="n"><ellipse cx="549" cy="1097" rx="20.5" ry="8.5"/><text x="549" y="1099.5">NAA10</text></g>
<g id="n-NAA16" class="n"><ellipse cx="661" cy="1093" rx="20.5" ry="8.5"/><text x="661" y="1095.5">NAA16</text></g>
<g id="n-NAA15" class="n"><ellipse cx="585" cy="1118" rx="20.5" ry="8.5"/><text x="585" y="1120.5">NAA15</text></g>
<g id="n-NAA38" class="n"><ellipse cx="627" cy="1117" rx="20.5" ry="8.5"/><text x="627" y="1119.5">NAA38</text></g>
<g id="n-NAA11" class="n m"><ellipse cx="603" cy="1048" rx="20.5" ry="8.5"/><text x="603" y="1050.5">NAA11</text></g>
<g id="n-XCR1" class="n"><ellipse cx="829" cy="918" rx="20.5" ry="8.5"/><text x="829" y="920.5">XCR1</text></g>
<g id="n-CCR9" class="n"><ellipse cx="872" cy="913" rx="20.5" ry="8.5"/><text x="872" y="915.5">CCR9</text></g>
<g id="n-CXCL10" class="n"><ellipse cx="908" cy="920" rx="20.5" ry="8.5"/><text x="908" y="922.5">CXCL10</text></g>
<g id="n-CXCR4" class="n c"><ellipse cx="946" cy="937" rx="20.5" ry="8.5"/><text x="946" y="939.5">CXCR4</text></g>
<g id="n-CCR7" class="n c"><ellipse cx="843" cy="946" rx="20.5" ry="8.5"/><text x="843" y="948.5">CCR7</text></g>
<g id="n-CCR3" class="n"><ellipse cx="876" cy="952" rx="20.5" ry="8.5"/><text x="876" y="954.5">CCR3</text></g>
<g id="n-CCR1" class="n"><ellipse cx="910" cy="953" rx="20.5" ry="8.5"/><text x="910" y="955.5">CCR1</text></g>
<g id="n-CXCR6" class="n"><ellipse cx="798" cy="951" rx="20.5" ry="8.5"/><text x="798" y="953.5">CXCR6</text></g>
<g id="n-CCR10" class="n"><ellipse cx="830" cy="975" rx="20.5" ry="8.5"/><text x="830" y="977.5">CCR10</text></g>
<g id="n-CCL3" class="n"><ellipse cx="966" cy="970" rx="20.5" ry="8.5"/><text x="966" y="972.5">CCL3</text></g>
<g id="n-CXCL2" class="n"><ellipse cx="932" cy="978" rx="20.5" ry="8.5"/><text x="932" y="980.5">CXCL2</text></g>
<g id="n-CXCL8" class="n"><ellipse cx="785" cy="982" rx="20.5" ry="8.5"/><text x="785" y="984.5">CXCL8</text></g>
<g id="n-CXCR1" class="n"><ellipse cx="973" cy="1004" rx="20.5" ry="8.5"/><text x="973" y="1006.5">CXCR1</text></g>
<g id="n-TNF" class="n"><ellipse cx="776" cy="1017" rx="20.5" ry="8.5"/><text x="776" y="1019.5">TNF</text></g>
<g id="n-CXCR3" class="n"><ellipse cx="815" cy="1009" rx="20.5" ry="8.5"/><text x="815" y="1011.5">CXCR3</text></g>
<g id="n-CCL20" class="n"><ellipse cx="934" cy="1012" rx="20.5" ry="8.5"/><text x="934" y="1014.5">CCL20</text></g>
<g id="n-CXCR2" class="n"><ellipse cx="973" cy="1037" rx="20.5" ry="8.5"/><text x="973" y="1039.5">CXCR2</text></g>
<g id="n-CCR2" class="n"><ellipse cx="783" cy="1052" rx="20.5" ry="8.5"/><text x="783" y="1054.5">CCR2</text></g>
<g id="n-ACKR2" class="n"><ellipse cx="824" cy="1044" rx="20.5" ry="8.5"/><text x="824" y="1046.5">ACKR2</text></g>
<g id="n-CCR8" class="n"><ellipse cx="955" cy="1052" rx="20.5" ry="8.5"/><text x="955" y="1054.5">CCR8</text></g>
<g id="n-CCR5" class="n"><ellipse cx="914" cy="1055" rx="20.5" ry="8.5"/><text x="914" y="1057.5">CCR5</text></g>
<g id="n-CX3CR1" class="n"><ellipse cx="810" cy="1082" rx="20.5" ry="8.5"/><text x="810" y="1084.5">CX3CR1</text></g>
<g id="n-CCL5" class="n"><ellipse cx="851" cy="1068" rx="20.5" ry="8.5"/><text x="851" y="1070.5">CCL5</text></g>
<g id="n-CXCL1" class="n"><ellipse cx="887" cy="1072" rx="20.5" ry="8.5"/><text x="887" y="1074.5">CXCL1</text></g>
<g id="n-IL1B" class="n"><ellipse cx="938" cy="1083" rx="20.5" ry="8.5"/><text x="938" y="1085.5">IL1B</text></g>
<g id="n-CCR6" class="n"><ellipse cx="839" cy="1103" rx="20.5" ry="8.5"/><text x="839" y="1105.5">CCR6</text></g>
<g id="n-CXCR5" class="n"><ellipse cx="911" cy="1103" rx="20.5" ry="8.5"/><text x="911" y="1105.5">CXCR5</text></g>
<g id="n-IL1A" class="n"><ellipse cx="875" cy="1108" rx="20.5" ry="8.5"/><text x="875" y="1110.5">IL1A</text></g>
<g id="n-CCL3L1" class="n m"><ellipse cx="877" cy="1011" rx="20.5" ry="8.5"/><text x="877" y="1013.5">CCL3L1</text></g>
<g id="n-CNTF" class="n"><ellipse cx="286" cy="1105" rx="20.5" ry="8.5"/><text x="286" y="1107.5">CNTF</text></g>
<g id="n-CTF1" class="n"><ellipse cx="353" cy="1101" rx="20.5" ry="8.5"/><text x="353" y="1103.5">CTF1</text></g>
<g id="n-CRLF1" class="n"><ellipse cx="257" cy="1164" rx="20.5" ry="8.5"/><text x="257" y="1166.5">CRLF1</text></g>
<g id="n-IL6ST" class="n c"><ellipse cx="391" cy="1157" rx="20.5" ry="8.5"/><text x="391" y="1159.5">IL6ST</text></g>
<g id="n-CNTFR" class="n"><ellipse cx="293" cy="1220" rx="20.5" ry="8.5"/><text x="293" y="1222.5">CNTFR</text></g>
<g id="n-LIFR" class="n c"><ellipse cx="360" cy="1217" rx="20.5" ry="8.5"/><text x="360" y="1219.5">LIFR</text></g>
<g id="n-CLCF1" class="n d"><ellipse cx="323" cy="1160" rx="20.5" ry="8.5"/><text x="323" y="1162.5">CLCF1</text></g>
<g id="n-TMEM30B" class="n"><ellipse cx="269" cy="1276" rx="20.5" ry="8.5"/><text x="269" y="1278.5">TMEM30B</text></g>
<g id="n-TMEM30A" class="n c"><ellipse cx="388" cy="1304" rx="20.5" ry="8.5"/><text x="388" y="1306.5">TMEM30A</text></g>
<g id="n-ATP8B3" class="n d"><ellipse cx="328" cy="1291" rx="20.5" ry="8.5"/><text x="328" y="1293.5">ATP8B3</text></g>
<g id="n-ARHGAP8" class="n"><ellipse cx="387" cy="1362" rx="20.5" ry="8.5"/><text x="387" y="1364.5">ARHGAP8</text></g>
<g id="n-PRR5-ARHGAP8" class="n m"><ellipse cx="326" cy="1360" rx="20.5" ry="8.5"/><text x="326" y="1362.5">PRR5-ARHGAP8</text></g>
<g id="n-AGPAT3" class="n"><ellipse cx="568" cy="1192" rx="20.5" ry="8.5"/><text x="568" y="1194.5">AGPAT3</text></g>
<g id="n-GNG2" class="n"><ellipse cx="627" cy="1191" rx="20.5" ry="8.5"/><text x="627" y="1193.5">GNG2</text></g>
<g id="n-GPR88" class="n"><ellipse cx="533" cy="1241" rx="20.5" ry="8.5"/><text x="533" y="1243.5">GPR88</text></g>
<g id="n-GNB1" class="n c"><ellipse cx="666" cy="1242" rx="20.5" ry="8.5"/><text x="666" y="1244.5">GNB1</text></g>
<g id="n-GNAS" class="n c"><ellipse cx="547" cy="1297" rx="20.5" ry="8.5"/><text x="547" y="1299.5">GNAS</text></g>
<g id="n-IGHV3-16" class="n"><ellipse cx="652" cy="1296" rx="20.5" ry="8.5"/><text x="652" y="1298.5">IGHV3-16</text></g>
<g id="n-RHO" class="n"><ellipse cx="599" cy="1321" rx="20.5" ry="8.5"/><text x="599" y="1323.5">RHO</text></g>
<g id="n-GPR52" class="n m"><ellipse cx="599" cy="1253" rx="20.5" ry="8.5"/><text x="599" y="1255.5">GPR52</text></g>
<g id="n-CALM3" class="n"><ellipse cx="879" cy="1165" rx="20.5" ry="8.5"/><text x="879" y="1167.5">CALM3</text></g>
<g id="n-GTF3C2" class="n"><ellipse cx="845" cy="1173" rx="20.5" ry="8.5"/><text x="845" y="1175.5">GTF3C2</text></g>
<g id="n-SGO2" class="n"><ellipse cx="913" cy="1175" rx="20.5" ry="8.5"/><text x="913" y="1177.5">SGO2</text></g>
<g id="n-CASQ1" class="n"><ellipse cx="813" cy="1188" rx="20.5" ry="8.5"/><text x="813" y="1190.5">CASQ1</text></g>
<g id="n-GTF3C1" class="n"><ellipse cx="943" cy="1193" rx="20.5" ry="8.5"/><text x="943" y="1195.5">GTF3C1</text></g>
<g id="n-CALM1" class="n"><ellipse cx="881" cy="1202" rx="20.5" ry="8.5"/><text x="881" y="1204.5">CALM1</text></g>
<g id="n-WDR12" class="n"><ellipse cx="846" cy="1211" rx="20.5" ry="8.5"/><text x="846" y="1213.5">WDR12</text></g>
<g id="n-PES1" class="n"><ellipse cx="912" cy="1216" rx="20.5" ry="8.5"/><text x="912" y="1218.5">PES1</text></g>
<g id="n-GTF3C3" class="n"><ellipse cx="791" cy="1215" rx="20.5" ry="8.5"/><text x="791" y="1217.5">GTF3C3</text></g>
<g id="n-RYR3" class="n"><ellipse cx="965" cy="1221" rx="20.5" ry="8.5"/><text x="965" y="1223.5">RYR3</text></g>
<g id="n-SULF2" class="n"><ellipse cx="822" cy="1237" rx="20.5" ry="8.5"/><text x="822" y="1239.5">SULF2</text></g>
<g id="n-FKBP1B" class="n"><ellipse cx="934" cy="1244" rx="20.5" ry="8.5"/><text x="934" y="1246.5">FKBP1B</text></g>
<g id="n-PPP1R9B" class="n"><ellipse cx="781" cy="1249" rx="20.5" ry="8.5"/><text x="781" y="1251.5">PPP1R9B</text></g>
<g id="n-ASPH" class="n"><ellipse cx="974" cy="1256" rx="20.5" ry="8.5"/><text x="974" y="1258.5">ASPH</text></g>
<g id="n-RYR1" class="n"><ellipse cx="778" cy="1285" rx="20.5" ry="8.5"/><text x="778" y="1287.5">RYR1</text></g>
<g id="n-KCNJ2" class="n"><ellipse cx="813" cy="1270" rx="20.5" ry="8.5"/><text x="813" y="1272.5">KCNJ2</text></g>
<g id="n-RPP38" class="n"><ellipse cx="973" cy="1291" rx="20.5" ry="8.5"/><text x="973" y="1293.5">RPP38</text></g>
<g id="n-CACNA1C" class="n"><ellipse cx="938" cy="1280" rx="20.5" ry="8.5"/><text x="938" y="1282.5">CACNA1C</text></g>
<g id="n-BOP1" class="n"><ellipse cx="795" cy="1318" rx="20.5" ry="8.5"/><text x="795" y="1320.5">BOP1</text></g>
<g id="n-DNAJC3" class="n"><ellipse cx="828" cy="1302" rx="20.5" ry="8.5"/><text x="828" y="1304.5">DNAJC3</text></g>
<g id="n-TRDN" class="n"><ellipse cx="954" cy="1323" rx="20.5" ry="8.5"/><text x="954" y="1325.5">TRDN</text></g>
<g id="n-DDX51" class="n"><ellipse cx="919" cy="1309" rx="20.5" ry="8.5"/><text x="919" y="1311.5">DDX51</text></g>
<g id="n-PRPF3" class="n"><ellipse cx="853" cy="1325" rx="20.5" ry="8.5"/><text x="853" y="1327.5">PRPF3</text></g>
<g id="n-RPS15" class="n c"><ellipse cx="887" cy="1325" rx="20.5" ry="8.5"/><text x="887" y="1327.5">RPS15</text></g>
<g id="n-NOP53" class="n"><ellipse cx="818" cy="1344" rx="20.5" ry="8.5"/><text x="818" y="1346.5">NOP53</text></g>
<g id="n-RYR2" class="n"><ellipse cx="927" cy="1348" rx="20.5" ry="8.5"/><text x="927" y="1350.5">RYR2</text></g>
<g id="n-SENP5" class="n"><ellipse cx="889" cy="1361" rx="20.5" ry="8.5"/><text x="889" y="1363.5">SENP5</text></g>
<g id="n-DAXX" class="n c"><ellipse cx="855" cy="1361" rx="20.5" ry="8.5"/><text x="855" y="1363.5">DAXX</text></g>
<g id="n-CASQ2" class="n d"><ellipse cx="876" cy="1264" rx="20.5" ry="8.5"/><text x="876" y="1266.5">CASQ2</text></g>
</g>
<g id="legend" class="lg">
<g id="lg-DNA" class="n d"><ellipse cx="518" cy="1394" rx="18.5" ry="11"/><text x="518" y="1397">DNA</text></g>
<g id="lg-mRNA" class="n m"><ellipse cx="582" cy="1394" rx="18.5" ry="11"/><text x="582" y="1397">mRNA</text></g>
<g id="lg-miRNA" class="n r"><ellipse cx="643" cy="1394" rx="18.5" ry="11"/><text x="643" y="1397">miRNA</text></g>
<g id="lg-Cancer" class="n c w"><ellipse cx="705" cy="1395" rx="18.5" ry="11"/><text x="705" y="1398">Cancer</text></g>
</g>
</svg>
